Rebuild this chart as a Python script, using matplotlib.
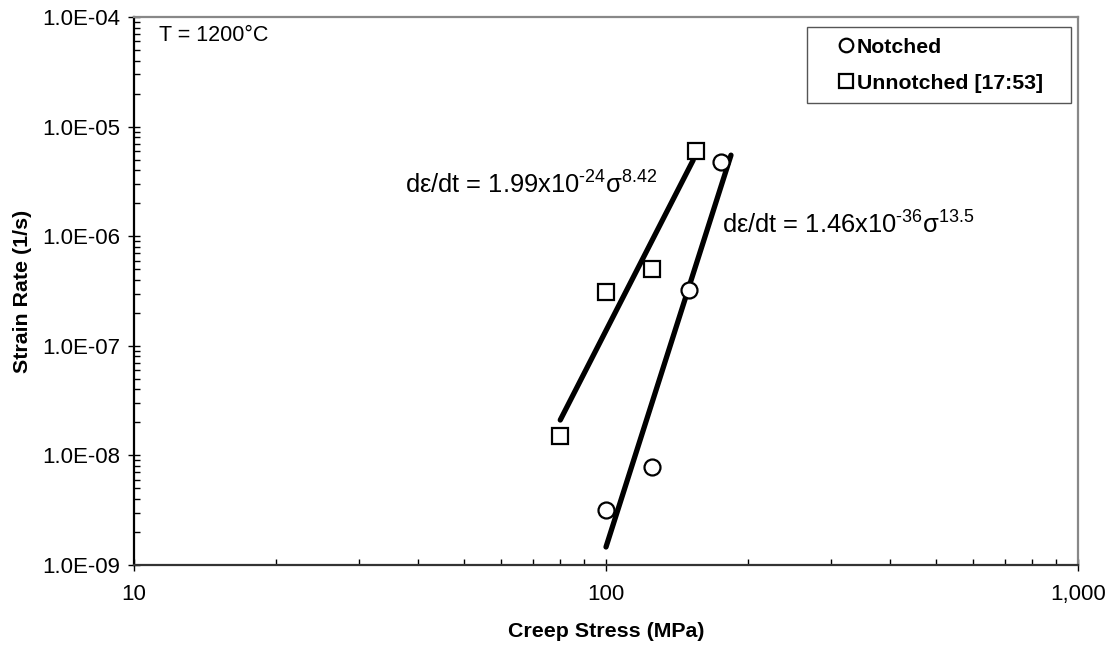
import matplotlib
matplotlib.use("Agg")
import matplotlib.pyplot as plt
import numpy as np
from matplotlib.ticker import FixedLocator, FuncFormatter, LogLocator, NullFormatter

plt.rcParams["font.family"] = ["Liberation Sans", "DejaVu Sans"]
plt.rcParams["mathtext.fontset"] = "custom"
plt.rcParams["mathtext.rm"] = "Liberation Sans"

# creep data at 1200 C
notched_stress = [100, 125, 150, 175]
notched_rate = [3.2e-9, 7.8e-9, 3.2e-7, 4.8e-6]
unnotched_stress = [80, 100, 125, 155]
unnotched_rate = [1.5e-8, 3.1e-7, 5.0e-7, 6.0e-6]

# power-law fits: rate = A * stress**n, drawn over (lo, hi) stress
unnotched_fit = (1.99e-24, 8.42, (80, 153))
notched_fit = (1.46e-36, 13.5, (100, 184))

x_ticks = [10, 100, 1000]
y_ticks = [1e-9, 1e-8, 1e-7, 1e-6, 1e-5, 1e-4]

W, H = 1109, 646
fig = plt.figure(figsize=(W / 100, H / 100), dpi=100)
ax = fig.add_axes([134 / W, 1 - 565 / H, 944 / W, 548 / H])
ax.set_xscale("log")
ax.set_yscale("log")
ax.set_xlim(10, 1000)
ax.set_ylim(1e-9, 1e-4)

for coef, expo, (lo, hi) in (unnotched_fit, notched_fit):
    s = np.array([lo, hi], dtype=float)
    ax.plot(s, coef * s ** expo, color="black", lw=3.8, solid_capstyle="round", zorder=2)

ax.plot(notched_stress, notched_rate, "o", ms=11.5, mfc="white", mec="black",
        mew=1.6, label="Notched", zorder=3)
ax.plot(unnotched_stress, unnotched_rate, "s", ms=11.5, mfc="white", mec="black",
        mew=1.6, label="Unnotched [17:53]", zorder=3)

ax.text(0.026, 0.966, "T = 1200°C", transform=ax.transAxes, ha="left", va="center",
        fontsize=15.5)


def fit_label(coef_txt, exp10, expo):
    hy = "\u2010"
    return (r"dε/dt = " + coef_txt + r"x10$^{\mathregular{" + hy + exp10[1:] + r"}}$"
            + r"σ$^{\mathregular{" + expo + r"}}$")


# fit labels placed in pixel coordinates (origin bottom-left)
ax.text(405, H - 184, fit_label("1.99", "-24", "8.42"), transform=None,
        ha="left", va="center", fontsize=18.4)
ax.text(722, H - 224, fit_label("1.46", "-36", "13.5"), transform=None,
        ha="left", va="center", fontsize=18.4)

ax.xaxis.set_major_locator(FixedLocator(x_ticks))
ax.xaxis.set_minor_locator(LogLocator(base=10, subs=np.arange(2, 10)))
ax.xaxis.set_minor_formatter(NullFormatter())
ax.xaxis.set_major_formatter(FuncFormatter(lambda v, _: f"{v:,.0f}"))
ax.yaxis.set_major_locator(FixedLocator(y_ticks))
ax.yaxis.set_minor_locator(LogLocator(base=10, subs=np.arange(2, 10)))
ax.yaxis.set_minor_formatter(NullFormatter())
ax.yaxis.set_major_formatter(FuncFormatter(lambda v, _: f"{v:.1E}"))

ax.tick_params(which="major", direction="inout", length=8, width=1.0, labelsize=16)
ax.tick_params(axis="x", which="major", pad=10)
ax.tick_params(axis="y", which="major", pad=6)
ax.tick_params(which="minor", direction="in", length=4, width=1.0)

ax.spines["left"].set_color("black")
ax.spines["bottom"].set_color("#333333")
ax.spines["top"].set_color("#888888")
ax.spines["right"].set_color("#888888")
for sp in ax.spines.values():
    sp.set_linewidth(1.6)

ax.set_xlabel("Creep Stress (MPa)", fontsize=15.4, fontweight="bold", labelpad=12)
ax.set_ylabel("Strain Rate (1/s)", fontsize=15.4, fontweight="bold", labelpad=7)

# legend box stretched to a fixed width, entries left-aligned
leg = ax.legend(loc="upper left", bbox_to_anchor=(0.7129, 0.8394, 0.2797, 0.1423),
                mode="expand", fancybox=False, framealpha=1, edgecolor="#555555",
                borderpad=0.5, handlelength=2.67, handletextpad=-0.83,
                labelspacing=0.8, borderaxespad=0,
                prop={"size": 15.3, "weight": "bold"}, markerscale=0.85)
leg.get_frame().set_linewidth(1.0)

fig.savefig("out.png", dpi=100)
